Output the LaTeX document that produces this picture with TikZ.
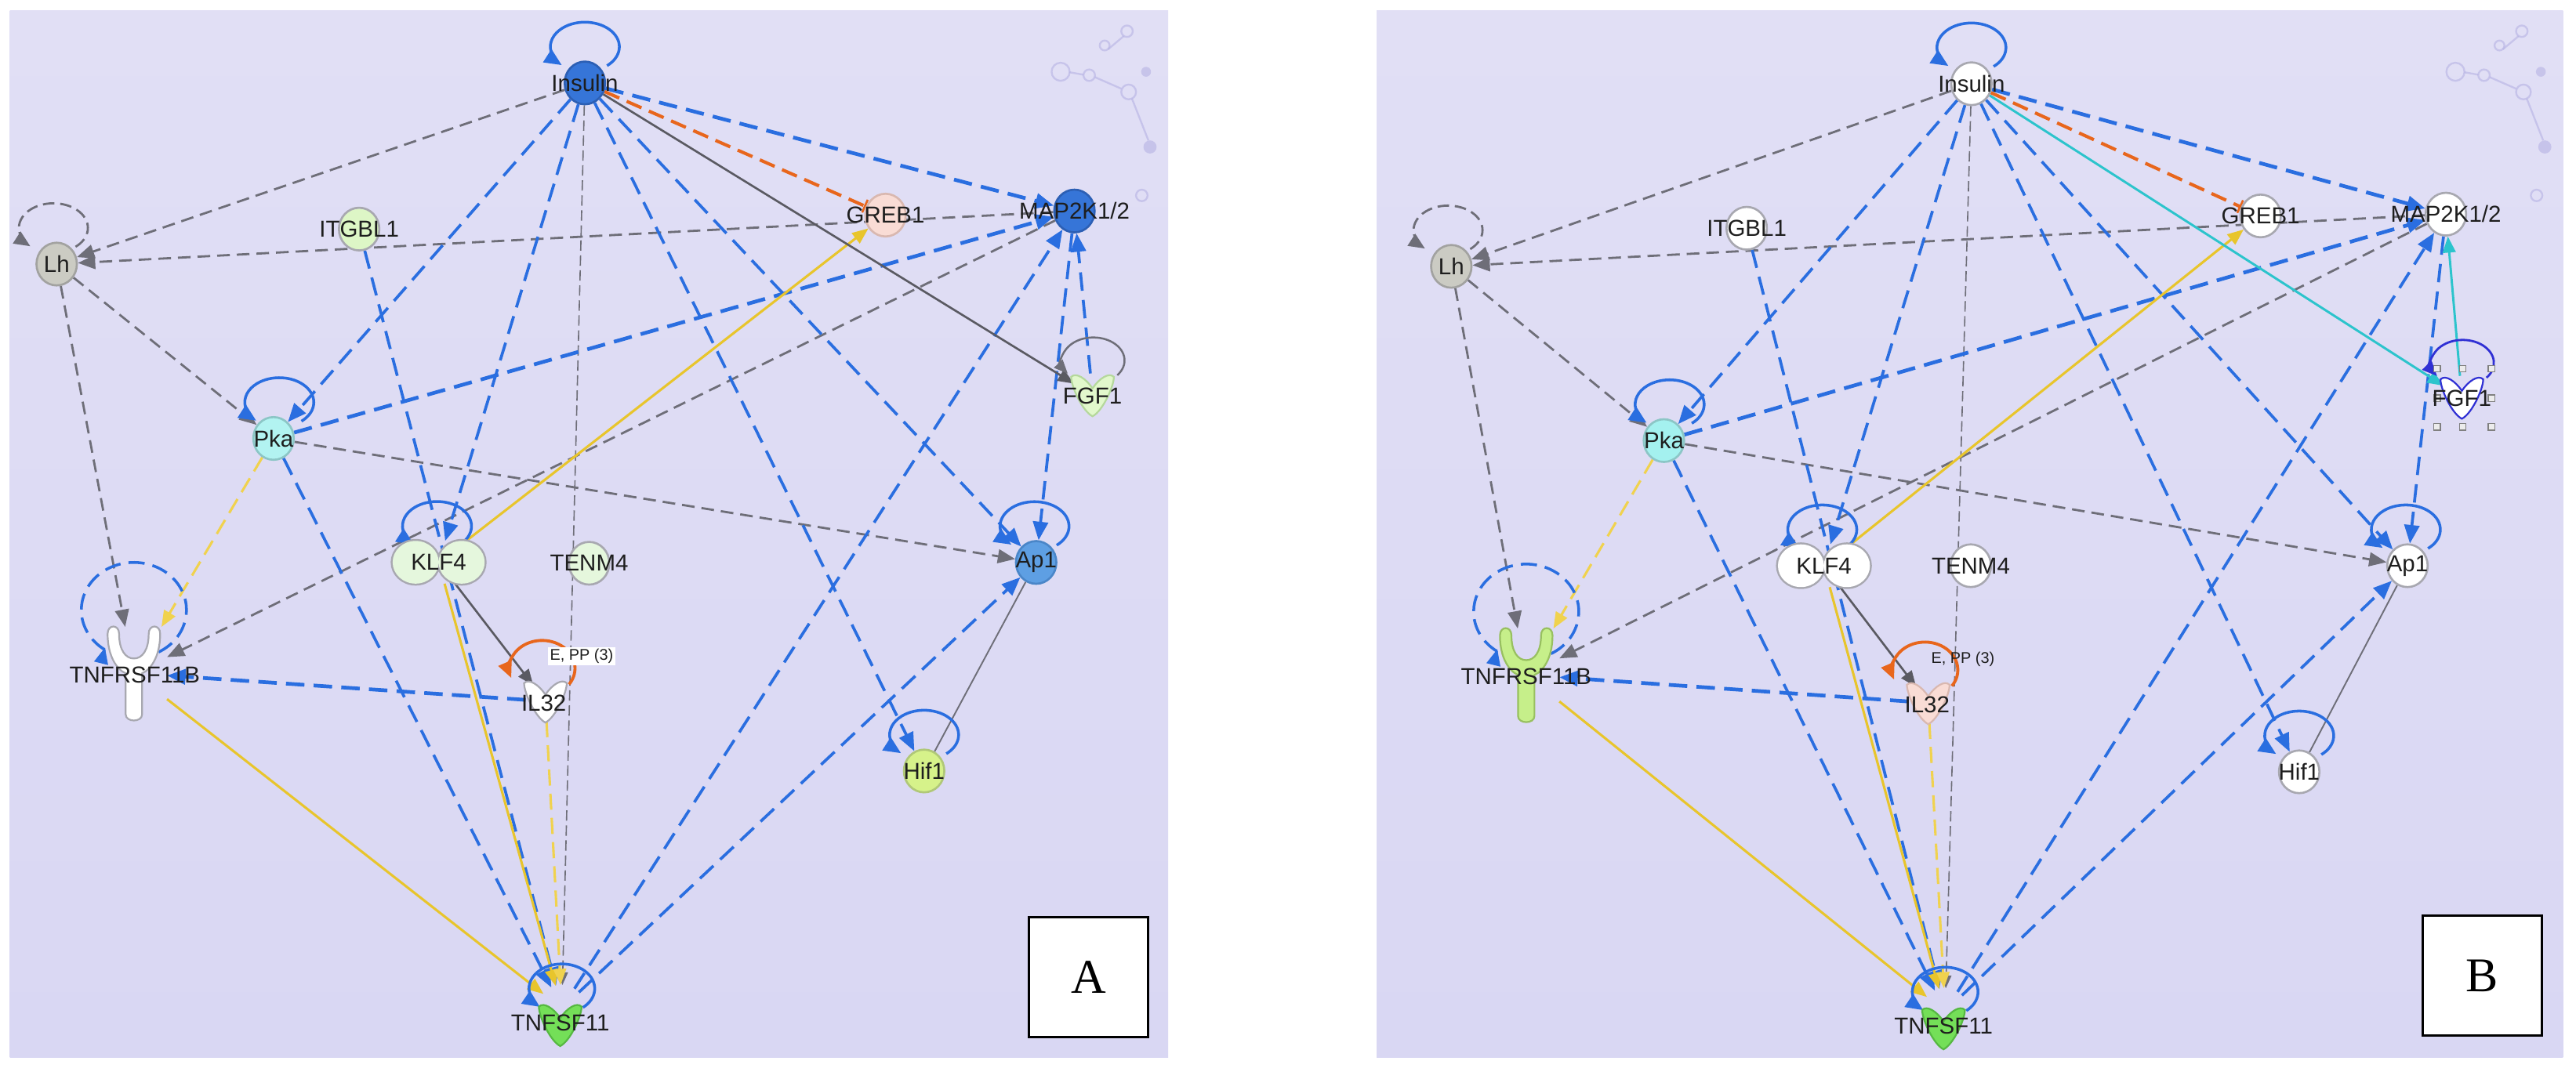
\documentclass[tikz,border=0pt]{standalone}
\usepackage{fontspec}
\setmainfont{Liberation Sans}
\newfontfamily\panelfont{Liberation Serif}
\usetikzlibrary{arrows.meta,calc,shapes.geometric}
\pgfdeclarelayer{bg}
\pgfdeclarelayer{edges}
\pgfsetlayers{bg,edges,main}

\definecolor{bgtop}{HTML}{E1DFF5}
\definecolor{bgmid}{HTML}{CCC8EE}
\definecolor{bgbot}{HTML}{D9D7F3}
\definecolor{bgdeco}{HTML}{B6B2E4}
\definecolor{eblue}{HTML}{2A6EE0}
\definecolor{egray}{HTML}{6E6E78}
\definecolor{egrayD}{HTML}{5A5A62}
\definecolor{eyel}{HTML}{E8C52C}
\definecolor{eyelL}{HTML}{F0D24E}
\definecolor{eora}{HTML}{E8661C}
\definecolor{ecya}{HTML}{2CC4CC}
\definecolor{edkb}{HTML}{3030D4}
\definecolor{nblue}{HTML}{3675D8}
\definecolor{nblueD}{HTML}{2C5FB4}
\definecolor{nblueL}{HTML}{5E9FE3}
\definecolor{nblueLD}{HTML}{4A86C8}
\definecolor{ngray}{HTML}{CBCBC3}
\definecolor{ngrayD}{HTML}{A2A2A0}
\definecolor{ngrnL}{HTML}{DDF6C6}
\definecolor{ngrnLL}{HTML}{E5F7DD}
\definecolor{npink}{HTML}{F9DCD5}
\definecolor{npinkD}{HTML}{D9B8B0}
\definecolor{ncyan}{HTML}{B2F3F1}
\definecolor{ncyanB}{HTML}{A4F1EF}
\definecolor{ncyanD}{HTML}{8CC6C6}
\definecolor{nyg}{HTML}{D6F28A}
\definecolor{nygD}{HTML}{B0C878}
\definecolor{ngrn}{HTML}{74DF58}
\definecolor{ngrnD}{HTML}{56B842}
\definecolor{nfgf}{HTML}{E2F8CC}
\definecolor{nfgfD}{HTML}{B5D89C}
\definecolor{nrec}{HTML}{C6EF8A}
\definecolor{nrecD}{HTML}{98C060}
\definecolor{nwD}{HTML}{A8A8B0}
\definecolor{txt}{HTML}{1E1E1E}

\tikzset{
  nd/.style={ellipse, minimum width=35pt, minimum height=37pt, inner sep=0pt, line width=1.8pt},
  anc/.style={circle, minimum size=#1, inner sep=0pt},
  klfanc/.style={ellipse, minimum width=80pt, minimum height=37pt, inner sep=0pt},
  tnranc/.style={rectangle, minimum width=57pt, minimum height=80pt, inner sep=0pt},
  lab/.style={font=\fontsize{20}{22}\selectfont, text=txt, inner sep=0pt},
  bd/.style={draw=eblue, line width=2.5pt, dash pattern=on 16pt off 8pt, -{Triangle[length=16pt,width=13pt]}},
  bdt/.style={bd, line width=3.2pt},
  gd/.style={draw=egray, line width=1.9pt, dash pattern=on 11pt off 6pt, -{Triangle[length=15pt,width=12pt]}},
  gthin/.style={draw=egray, line width=1.1pt, dash pattern=on 9pt off 4pt, -{Triangle[length=11pt,width=9pt]}},
  gsol/.style={draw=egrayD, line width=1.8pt, -{Triangle[length=14pt,width=11pt]}},
  gplain/.style={draw=egray, line width=1.3pt},
  ysol/.style={draw=eyel, line width=2.1pt, -{Triangle[length=14pt,width=11pt]}},
  ydsh/.style={draw=eyelL, line width=2.1pt, dash pattern=on 14pt off 7pt, -{Triangle[length=14pt,width=11pt]}},
  odsh/.style={draw=eora, line width=2.8pt, dash pattern=on 14pt off 7pt, -{Bar[width=12pt,line width=1.8pt]}},
  csol/.style={draw=ecya, line width=2pt, -{Triangle[length=14pt,width=11pt]}},
  bloop/.style={draw=eblue, line width=2.4pt, -{Triangle[length=15pt,width=13pt]}},
  bdloop/.style={draw=eblue, line width=2.4pt, dash pattern=on 14pt off 7pt},
  gdloop/.style={draw=egray, line width=1.9pt, dash pattern=on 10pt off 5pt, -{Triangle[length=14pt,width=12pt]}},
  gsloop/.style={draw=egray, line width=1.7pt, -{Triangle[length=12pt,width=10pt]}},
  dkloop/.style={draw=edkb, line width=1.9pt, -{Triangle[length=13pt,width=11pt]}},
  oloop/.style={draw=eora, line width=2.6pt, -{Triangle[length=14pt,width=12pt]}},
  tagbox/.style={draw=black, fill=white, line width=2.2pt, minimum width=103pt, minimum height=104pt, inner sep=0pt, font=\panelfont\fontsize{42}{44}\selectfont},
  selsq/.style={draw=gray, fill=white!85!gray, line width=0.9pt}
}

% self loop: style, node, offset, rx, ry, start, end
\newcommand\nodeloop[7]{\draw[#1] ($(#2)+(#3)+(#6:#4 and #5)$) arc[start angle=#6, end angle=#7, x radius=#4, y radius=#5];}
% receptor (Y) shape
\newcommand\yshape[3]{\filldraw[fill=#2, draw=#3, line width=1.5pt, shift={(#1)}] (-16,24) .. controls (-16,30) and (-9,30) .. (-9,24) .. controls (-9,14) and (-5,9) .. (0,9) .. controls (5,9) and (9,14) .. (9,24) .. controls (9,30) and (16,30) .. (16,24) .. controls (16,10) and (10,2) .. (5,0) -- (5,-25) .. controls (5,-30) and (-5,-30) .. (-5,-25) -- (-5,0) .. controls (-10,2) and (-16,10) .. (-16,24) -- cycle;}
% ligand (V) shape
\newcommand\vshape[3]{\filldraw[fill=#2, draw=#3, line width=1.5pt, shift={(#1)}] (0,-13) .. controls (-6,-10) and (-13,5) .. (-13,11) .. controls (-10,14) and (-4,10) .. (0,4) .. controls (4,10) and (10,14) .. (13,11) .. controls (13,5) and (6,-10) .. (0,-13) -- cycle;}
% dimer shape
\newcommand\dimer[3]{%
  \draw[#3, line width=3.4pt] ($(#1)+(-14,0)$) ellipse[x radius=14, y radius=13] ($(#1)+(14,0)$) ellipse[x radius=14, y radius=13];
  \fill[#2] ($(#1)+(-14,0)$) ellipse[x radius=14, y radius=13] ($(#1)+(14,0)$) ellipse[x radius=14, y radius=13];}
% faint decoration in the corner
\newcommand\decor[1]{%
  \begin{scope}[shift={(#1,0)}, bgdeco, line width=1.6pt, opacity=0.6]
    \draw (645.6,-43.7) circle[radius=5.5];
    \draw (663,-45.8) circle[radius=3.5];
    \draw (687,-56) circle[radius=4.5];
    \fill (697.6,-43.7) circle[radius=3];
    \draw (672.4,-27.7) circle[radius=3];
    \draw (686,-19) circle[radius=3.5];
    \fill (700,-89.5) circle[radius=4];
    \draw (695,-119) circle[radius=3.5];
    \draw (651,-44) -- (659.5,-45.5) (666.5,-47) -- (682.5,-54) (689,-60) -- (699,-85.5) (674.5,-30) -- (684,-22);
  \end{scope}}

\newcommand\commonedges[1]{%
\begin{pgfonlayer}{edges}
\draw[gd] (#1ins) -- (#1lh);
\draw[gd] (#1map) -- (#1lh);
\draw[gd] (#1lh) -- (#1pka);
\draw[gd] (#1lh) -- (#1tnr);
\draw[gd] (#1pka) -- (#1ap1);
\draw[gd] (#1map) -- (#1tnr);
\draw[gthin] (#1ins) -- (#1tnf);
\draw[gsol] (#1klf) -- (#1il);
\draw[gplain] (#1hif) -- (#1ap1);
\draw[bdt] (#1ins) -- (#1map);
\draw[bd] (#1ins) -- (#1pka);
\draw[bd] (#1ins) -- (#1klf);
\draw[bd] (#1ins) -- (#1hif);
\draw[bd] (#1ins) -- (#1ap1);
\draw[bdt] (#1pka) -- (#1map);
\draw[bd] (#1pka) -- (#1tnf);
\draw[bd] (#1itg) -- (#1tnf);
\draw[bd] (#1tnf) -- (#1map);
\draw[bd] (#1tnf) -- (#1ap1);
\draw[bd] (#1map) -- (#1ap1);
\draw[bdt] (#1il) -- (#1tnr);
\draw[ysol] (#1klf) -- (#1greb);
\draw[ydsh] (#1pka) -- (#1tnr);
\draw[ysol] (#1tnr) -- (#1tnf);
\draw[ysol] (#1klf) -- (#1tnf);
\draw[ydsh] (#1il) -- (#1tnf);
\draw[odsh] (#1ins) -- (#1greb);
\nodeloop{bloop}{#1ins}{0,22}{21}{15}{-50}{228}
\nodeloop{bloop}{#1pka}{3.5,22}{21}{15}{-50}{228}
\nodeloop{bloop}{#1klf}{-1,22}{21}{15}{-50}{228}
\nodeloop{bloop}{#1ap1}{-1,22}{21}{15}{-50}{228}
\nodeloop{bloop}{#1hif}{0,22}{21}{15}{-50}{228}
\nodeloop{bloop}{#1tnf}{0,12}{20}{15}{-50}{228}
\nodeloop{gdloop}{#1lh}{-2,22}{21}{15}{-50}{228}
\nodeloop{oloop}{#1il}{-2,20}{20}{17}{-35}{200}
\nodeloop{bdloop}{#1tnr}{0,38.5}{32}{29}{-62}{236}
\draw[eblue, line width=2pt, -{Triangle[length=14pt,width=12pt]}] ($(#1tnr)+(0,38.5)+(236:32 and 29)$) -- ++(0.3,1.2);
\end{pgfonlayer}}

\begin{document}
\begin{tikzpicture}[x=0.05cm, y=0.05cm]
\useasboundingbox (0,0) rectangle (1568,-657);
\begin{pgfonlayer}{bg}
  \fill[white] (0,0) rectangle (1568,-657);
  \shade[top color=bgtop, middle color=bgmid, bottom color=bgbot] (6,-6.4) rectangle (711,-644);
  \shade[top color=bgtop, middle color=bgmid, bottom color=bgbot] (838,-6.4) rectangle (1560,-644);
  \decor{0}
  \decor{849}
\end{pgfonlayer}

% ================= Panel A =================
\node[nd, fill=nblue, draw=nblueD] (a-ins) at (356,-50.5) {};
\node[nd, fill=ngray, draw=ngrayD] (a-lh) at (34.5,-160.8) {};
\node[nd, fill=ngrnL, draw=nwD] (a-itg) at (218.6,-139.5) {};
\node[nd, fill=npink, draw=npinkD] (a-greb) at (539,-131) {};
\node[nd, fill=nblue, draw=nblueD] (a-map) at (654,-128.5) {};
\node[anc=37pt] (a-fgf) at (665,-240.5) {};
\node[nd, fill=ncyan, draw=ncyanD] (a-pka) at (166.5,-267) {};
\node[klfanc] (a-klf) at (267,-342.4) {};
\node[nd, fill=ngrnLL, draw=nwD] (a-tenm) at (358.6,-343) {};
\node[nd, fill=nblueL, draw=nblueLD] (a-ap1) at (630.7,-342.5) {};
\node[tnranc] (a-tnr) at (81.5,-410) {};
\node[anc=34pt] (a-il) at (332,-427) {};
\node[nd, fill=nyg, draw=nygD] (a-hif) at (562.5,-469.5) {};
\node[anc=40pt] (a-tnf) at (342,-614) {};

\vshape{665,-240.5}{nfgf}{nfgfD}
\dimer{a-klf}{ngrnLL}{nwD}
\yshape{81.5,-410}{white}{nwD}
\vshape{332,-427}{white}{nwD}
\vshape{341,-624}{ngrn}{ngrnD}

\commonedges{a-}
\begin{pgfonlayer}{edges}
\draw[gsol] (a-ins) -- (a-fgf);
\draw[bd] (a-fgf) -- (a-map);
\nodeloop{gsloop}{a-fgf}{0.5,21}{19}{14}{-40}{215}
\end{pgfonlayer}

\node[lab] (a-ins-l) at (a-ins) {Insulin};
\node[lab] (a-lh-l) at (a-lh) {Lh};
\node[lab] (a-itg-l) at (a-itg) {ITGBL1};
\node[lab] (a-greb-l) at (a-greb) {GREB1};
\node[lab] (a-map-l) at (a-map) {MAP2K1/2};
\node[lab] (a-fgf-l) at (665,-241) {FGF1};
\node[lab] (a-pka-l) at (a-pka) {Pka};
\node[lab] (a-klf-l) at (a-klf) {KLF4};
\node[lab] (a-tenm-l) at (a-tenm) {TENM4};
\node[lab] (a-ap1-l) at (a-ap1) {Ap1};
\node[lab] (a-tnr-l) at (82,-411) {TNFRSF11B};
\node[lab] (a-il-l) at (331,-428) {IL32};
\node[lab] (a-hif-l) at (a-hif) {Hif1};
\node[lab] (a-tnf-l) at (341,-623) {TNFSF11};
\node[fill=white, inner xsep=2pt, inner ysep=1.5pt, font=\fontsize{13.5}{15}\selectfont, text=txt] (a-epp) at (354,-399.5) {E, PP (3)};
\node[tagbox] (a-tag) at (662.5,-595) {A};

% ================= Panel B =================
\node[nd, fill=white, draw=nwD] (b-ins) at (1200,-51) {};
\node[nd, fill=ngray, draw=ngrayD] (b-lh) at (883.4,-162.2) {};
\node[nd, fill=white, draw=nwD] (b-itg) at (1063.2,-139) {};
\node[nd, fill=white, draw=nwD] (b-greb) at (1376,-131.5) {};
\node[nd, fill=white, draw=nwD] (b-map) at (1488.8,-130.4) {};
\node[anc=37pt] (b-fgf) at (1498.5,-242) {};
\node[nd, fill=ncyanB, draw=ncyanD] (b-pka) at (1012.8,-268.3) {};
\node[klfanc] (b-klf) at (1110.2,-344.5) {};
\node[nd, fill=white, draw=nwD] (b-tenm) at (1199.6,-344.5) {};
\node[nd, fill=white, draw=nwD] (b-ap1) at (1465.4,-344.5) {};
\node[tnranc] (b-tnr) at (929,-411) {};
\node[anc=34pt] (b-il) at (1173.7,-428) {};
\node[nd, fill=white, draw=nwD] (b-hif) at (1399.5,-470) {};
\node[anc=40pt] (b-tnf) at (1184,-616) {};

\vshape{1498.5,-242}{white}{edkb}
\dimer{b-klf}{white}{nwD}
\yshape{929,-411}{nrec}{nrecD}
\vshape{1173.7,-428}{npink}{npinkD}
\vshape{1183,-626}{ngrn}{ngrnD}

\commonedges{b-}
\begin{pgfonlayer}{edges}
\draw[csol] (b-ins) -- (b-fgf);
\draw[csol] (b-fgf) -- (b-map);
\nodeloop{dkloop}{b-fgf}{0.5,21}{19}{14}{-40}{215}
\end{pgfonlayer}

\foreach \sx/\sy [count=\si] in {1483.5/-224.5, 1499/-224.5, 1516.5/-224.5, 1483.5/-242.5, 1516.5/-242.5, 1483.5/-260, 1499/-260, 1516.5/-260}
  \draw[selsq] (\sx-2,\sy-2) rectangle ++(4,4);

\node[lab] (b-ins-l) at (b-ins) {Insulin};
\node[lab] (b-lh-l) at (b-lh) {Lh};
\node[lab] (b-itg-l) at (b-itg) {ITGBL1};
\node[lab] (b-greb-l) at (b-greb) {GREB1};
\node[lab] (b-map-l) at (b-map) {MAP2K1/2};
\node[lab] (b-fgf-l) at (1498.5,-242.5) {FGF1};
\node[lab] (b-pka-l) at (b-pka) {Pka};
\node[lab] (b-klf-l) at (b-klf) {KLF4};
\node[lab] (b-tenm-l) at (b-tenm) {TENM4};
\node[lab] (b-ap1-l) at (b-ap1) {Ap1};
\node[lab] (b-tnr-l) at (929,-412) {TNFRSF11B};
\node[lab] (b-il-l) at (1173,-429) {IL32};
\node[lab] (b-hif-l) at (b-hif) {Hif1};
\node[lab] (b-tnf-l) at (1183,-625) {TNFSF11};
\node[inner sep=0pt, font=\fontsize{13.5}{15}\selectfont, text=txt] (b-epp) at (1194.8,-401.4) {E, PP (3)};
\node[tagbox] (b-tag) at (1511,-594) {B};
\end{tikzpicture}
\end{document}
